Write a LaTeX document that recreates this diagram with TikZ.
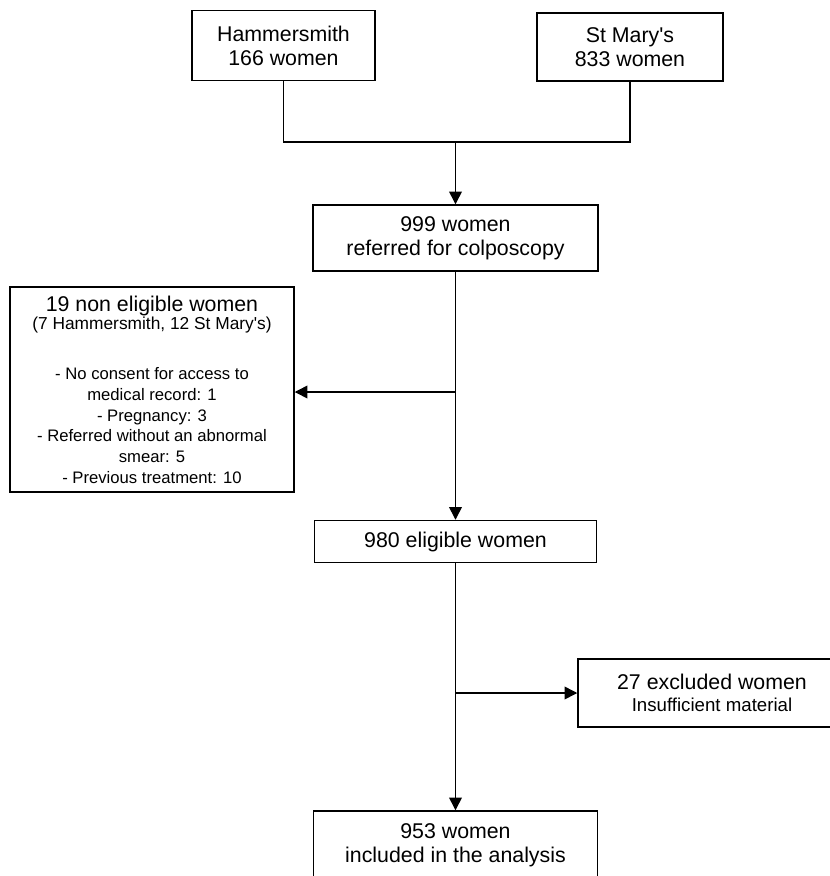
\documentclass[tikz,border=0pt]{standalone}
\usepackage{fontspec}
\setmainfont{Liberation Sans}
\usetikzlibrary{arrows.meta}
\newcommand{\bigtxt}{\fontsize{16}{18}\selectfont}
\newcommand{\midtxt}{\fontsize{13}{15.5}\selectfont}
\newcommand{\smalltxt}{\fontsize{12.5}{15.5}\selectfont}
\tikzset{
    flowbox/.style={draw, line width=1.1pt, inner sep=0pt, align=center, font=\bigtxt},
    >={Triangle[length=9.5pt,width=9.5pt]}
}
\begin{document}
\begin{tikzpicture}[x=0.75pt,y=-0.75pt,line width=1.1pt]
    \useasboundingbox (0,0) rectangle (830,876);

    % Boxes
    \node[flowbox, minimum width=137.25pt, minimum height=52.5pt] (ham) at (283.5,45.5) {Hammersmith\\166 women};
    \node[flowbox, minimum width=139.5pt, minimum height=51pt] (stm) at (630,47) {St Mary\textquotesingle s\\833 women};
    \node[flowbox, minimum width=213.75pt, minimum height=49.5pt] (refer) at (455.5,238) {999 women\\referred for colposcopy};
    \node[flowbox, font=\smalltxt, minimum width=213pt, minimum height=153.75pt] (nonelig) at (152,389.5)
        {{\bigtxt 19 non eligible women}\\[-1.5pt]{\midtxt (7 Hammersmith, 12 St Mary\textquotesingle s)}\\[22pt]
         - No consent for access to\\medical record: 1\\- Pregnancy: 3\\- Referred without an abnormal\\smear: 5\\- Previous treatment: 10};
    \node[flowbox, minimum width=211.5pt, minimum height=31.5pt] (elig) at (455.5,541.5) {980 eligible women};
    \node[flowbox, minimum width=201pt, minimum height=51pt] (excl) at (712,693) {27 excluded women\\[-1pt]{\fontsize{14}{16}\selectfont Insufficient material}};
    \node[flowbox, minimum width=213pt, minimum height=51pt] (incl) at (455.5,845) {953 women\\included in the analysis};

    % Connectors
    \coordinate (join) at (455.5,142);
    \coordinate (split1) at (455.5,392);
    \coordinate (split2) at (455.5,693);
    \draw (ham.south) |- (join) -| (stm.south);
    \draw[->] (join) -- (refer.north);
    \draw[->] (refer.south) -- (elig.north);
    \draw[->] (split1) -- (split1 -| nonelig.east);
    \draw[->] (elig.south) -- (incl.north);
    \draw[->] (split2) -- (excl.west);
\end{tikzpicture}
\end{document}
